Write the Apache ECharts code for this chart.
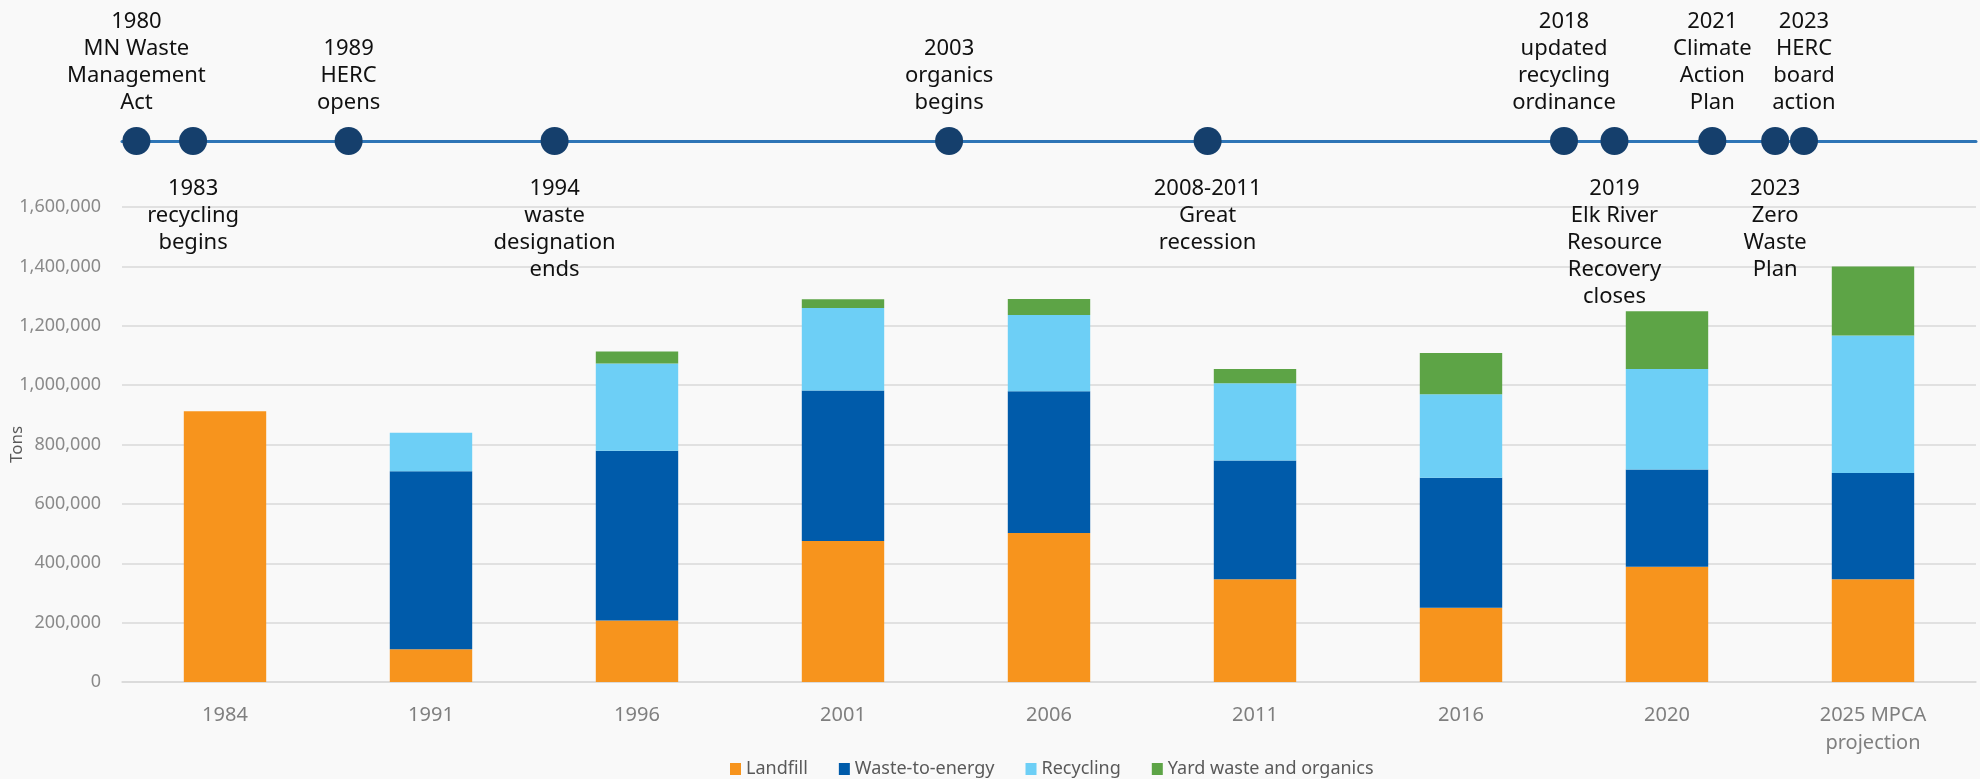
<!DOCTYPE html>
<html>
<head>
<meta charset="utf-8">
<script src="https://cdn.jsdelivr.net/npm/echarts@6/dist/echarts.min.js"></script>
<style>
html,body{margin:0;padding:0;background:#f9f9f9;}
#chart{width:1980px;height:779px;}
</style>
</head>
<body>
<div id="chart"></div>
<script>
// ---- Data ----
const categories = ['1984', '1991', '1996', '2001', '2006', '2011', '2016', '2020', '2025 MPCA\nprojection'];
const seriesNames = ['Landfill', 'Waste-to-energy', 'Recycling', 'Yard waste and organics'];
const landfill   = [912000, 110000, 207000, 475000, 502000, 346000, 250000, 388000, 346000];
const wasteToEnergy = [0, 600000, 572000, 507000, 477000, 400000, 438000, 328000, 358000];
const recycling  = [0, 130000, 294000, 278000, 257000, 260000, 281000, 338000, 463000];
const yardWaste  = [0, 0, 40000, 29000, 54000, 48000, 139000, 195000, 233000];
const yTicks = [0, 200000, 400000, 600000, 800000, 1000000, 1200000, 1400000, 1600000];

// Timeline events: position measured along the category axis (category index units)
const eventLabels = [
  '1980\nMN Waste\nManagement\nAct',
  '1983\nrecycling\nbegins',
  '1989\nHERC\nopens',
  '1994\nwaste\ndesignation\nends',
  '2003\norganics\nbegins',
  '2008-2011\nGreat\nrecession',
  '2018\nupdated\nrecycling\nordinance',
  '2019\nElk River\nResource\nRecovery\ncloses',
  '2021\nClimate\nAction\nPlan',
  '2023\nZero\nWaste\nPlan',
  '2023\nHERC\nboard\naction'
];
const eventPos  = [-0.43, -0.155, 0.60, 1.60, 3.515, 4.77, 6.50, 6.745, 7.22, 7.525, 7.665];
const eventSide = ['top', 'bottom', 'top', 'bottom', 'top', 'bottom', 'top', 'bottom', 'top', 'bottom', 'top'];

// ---- Chart ----
const colors = ['#F7941D', '#005BAA', '#6DCFF6', '#5DA446'];
const values = [landfill, wasteToEnergy, recycling, yardWaste];
const FONT = 'Noto Sans';

const chart = echarts.init(document.getElementById('chart'), null, {renderer: 'canvas'});

const barSeries = seriesNames.map((n, i) => ({
  name: n,
  type: 'bar',
  stack: 'total',
  xAxisIndex: 0,
  yAxisIndex: 0,
  barWidth: '40%',
  itemStyle: {color: colors[i]},
  data: values[i]
}));

const eventData = eventPos.map((p, i) => ({
  value: [p, 0],
  name: eventLabels[i],
  label: {
    position: eventSide[i],
    distance: eventSide[i] === 'top' ? 11 : 20
  }
}));

const option = {
  backgroundColor: '#f9f9f9',
  animation: false,
  textStyle: {fontFamily: FONT},
  color: colors,
  legend: {
    data: seriesNames,
    left: 725,
    top: 755,
    itemWidth: 11,
    itemHeight: 12,
    itemGap: 31,
    icon: 'rect',
    textStyle: {fontSize: 18, color: '#595959', fontFamily: FONT}
  },
  grid: [
    {left: 122, right: 4, top: 207, bottom: 97, containLabel: false, outerBoundsMode: 'none'},
    {left: 122, right: 4, top: 131, height: 20, containLabel: false, outerBoundsMode: 'none'}
  ],
  xAxis: [
    {
      type: 'category',
      gridIndex: 0,
      data: categories,
      axisLine: {lineStyle: {color: '#d9d9d9', width: 1.5}},
      axisTick: {show: false},
      axisLabel: {color: '#7f7f7f', fontSize: 20, margin: 19, lineHeight: 28, fontFamily: FONT}
    },
    {
      type: 'value',
      gridIndex: 1,
      min: -0.5,
      max: 8.5,
      axisLine: {show: true, onZero: true, lineStyle: {color: '#2E75B6', width: 3}},
      axisTick: {show: false},
      axisLabel: {show: false},
      splitLine: {show: false}
    }
  ],
  yAxis: [
    {
      type: 'value',
      gridIndex: 0,
      min: yTicks[0],
      max: yTicks[yTicks.length - 1],
      interval: yTicks[1] - yTicks[0],
      name: 'Tons',
      nameLocation: 'middle',
      nameGap: 96,
      nameMoveOverlap: false,
      nameTextStyle: {fontSize: 17, color: '#595959', fontFamily: FONT},
      axisLine: {show: false},
      axisTick: {show: false},
      axisLabel: {
        color: '#8a8a8a', fontSize: 18, margin: 21, fontFamily: FONT,
        formatter: v => v.toLocaleString('en-US')
      },
      splitLine: {lineStyle: {color: '#d9d9d9', width: 1.5}}
    },
    {
      type: 'value',
      gridIndex: 1,
      min: -1,
      max: 1,
      show: false,
      splitLine: {show: false}
    }
  ],
  series: barSeries.concat([{
    type: 'scatter',
    xAxisIndex: 1,
    yAxisIndex: 1,
    clip: false,
    symbol: 'circle',
    symbolSize: 28,
    itemStyle: {color: '#153F6C', opacity: 1},
    z: 5,
    label: {
      show: true,
      formatter: p => p.name,
      fontSize: 22,
      lineHeight: 27,
      color: '#111111',
      align: 'center',
      fontFamily: FONT
    },
    data: eventData
  }])
};

chart.setOption(option);
</script>
</body>
</html>
